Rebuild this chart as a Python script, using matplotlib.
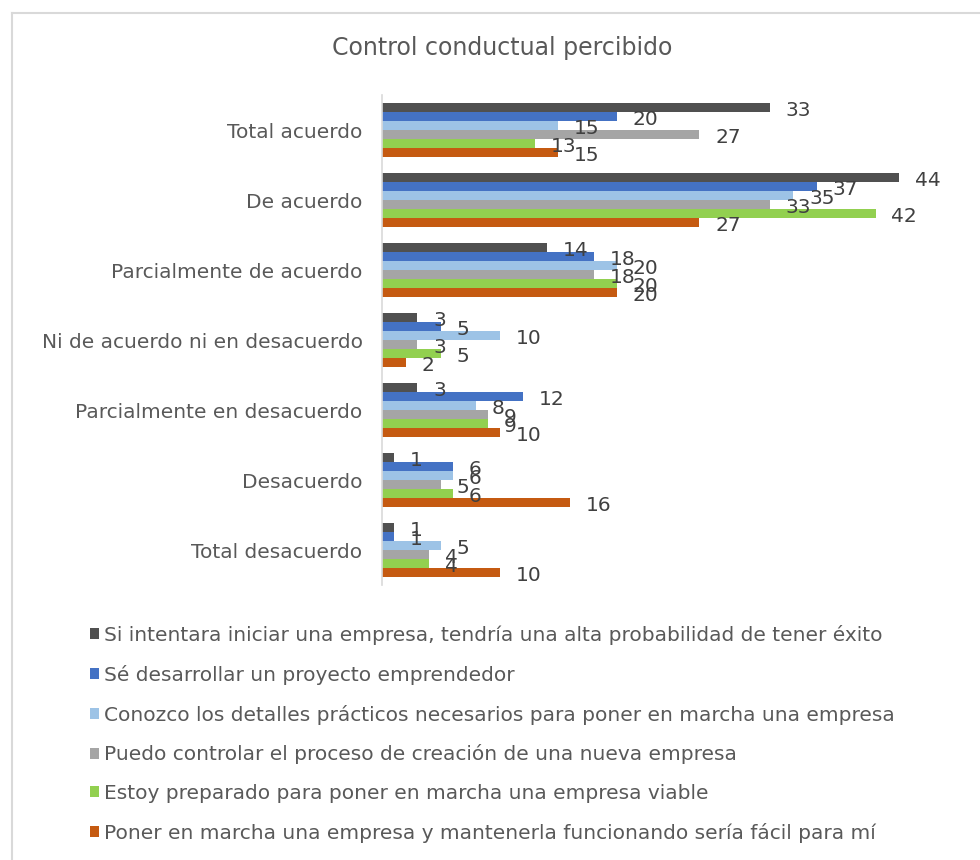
import matplotlib
matplotlib.use("Agg")
import matplotlib.pyplot as plt
from matplotlib.patches import Patch
from matplotlib.lines import Line2D
import numpy as np

plt.rcParams['font.family'] = ['DejaVu Sans']

categories = ["Total acuerdo", "De acuerdo", "Parcialmente de acuerdo",
              "Ni de acuerdo ni en desacuerdo", "Parcialmente en desacuerdo",
              "Desacuerdo", "Total desacuerdo"]

series_names = [
    "Si intentara iniciar una empresa, tendría una alta probabilidad de tener éxito",
    "Sé desarrollar un proyecto emprendedor",
    "Conozco los detalles prácticos necesarios para poner en marcha una empresa",
    "Puedo controlar el proceso de creación de una nueva empresa",
    "Estoy preparado para poner en marcha una empresa viable",
    "Poner en marcha una empresa y mantenerla funcionando sería fácil para mí",
]

s_exito = [33, 44, 14, 3, 3, 1, 1]
s_proyecto = [20, 37, 18, 5, 12, 6, 1]
s_detalles = [15, 35, 20, 10, 8, 6, 5]
s_controlar = [27, 33, 18, 3, 9, 5, 4]
s_preparado = [13, 42, 20, 5, 9, 6, 4]
s_facil = [15, 27, 20, 2, 10, 16, 10]

series_values = [s_exito, s_proyecto, s_detalles, s_controlar, s_preparado, s_facil]
colors = ["#505050", "#4472C4", "#9DC3E6", "#A5A5A5", "#92D050", "#C55A11"]

W, H = 980, 860
fig = plt.figure(figsize=(W / 100, H / 100), dpi=100)
fig.patch.set_facecolor("white")

# chart border (left & top visible)
fig.add_artist(Line2D([12 / W, 12 / W], [0, 1 - 13 / H], transform=fig.transFigure,
                      color="#D9D9D9", lw=1.5))
fig.add_artist(Line2D([12 / W, 1], [1 - 13 / H, 1 - 13 / H], transform=fig.transFigure,
                      color="#D9D9D9", lw=1.5))

left_px, right_px = 382, 970
top_px, bot_px = 95, 585
ax = fig.add_axes([left_px / W, 1 - bot_px / H, (right_px - left_px) / W, (bot_px - top_px) / H])

FS = 14.5
xmax = (right_px - left_px) / 11.75
bh = 9 / 70
y = np.arange(len(categories))
n = len(series_values)
for i, (vals, c) in enumerate(zip(series_values, colors)):
    pos = y + (i - (n - 1) / 2) * bh
    bars = ax.barh(pos, vals, height=bh, color=c, edgecolor="none")
    for b, v in zip(bars, vals):
        ax.annotate(str(v), xy=(b.get_width(), b.get_y() + b.get_height() / 2),
                    xytext=(16, -3), textcoords="offset pixels",
                    ha="left", va="center", fontsize=FS, color="#404040")

ax.set_xlim(0, xmax)
ax.set_ylim(len(categories) - 0.5, -0.5)
ax.set_yticks(y)
ax.set_yticklabels(categories, fontsize=FS, color="#595959")
ax.tick_params(axis="y", length=0, pad=14)
ax.set_xticks([])
for s in ["top", "right", "bottom"]:
    ax.spines[s].set_visible(False)
ax.spines["left"].set_color("#D9D9D9")
ax.spines["left"].set_linewidth(1.2)

fig.text(502 / W, 1 - 48 / H, "Control conductual percibido", ha="center", va="center",
         fontsize=17, color="#595959")

handles = [Patch(facecolor=c, edgecolor="none") for c in colors]
leg = fig.legend(handles, series_names, loc="upper left",
                 bbox_to_anchor=(82 / W, 1 - 617 / H), frameon=False,
                 fontsize=FS, labelspacing=0.98, handlelength=0.45, handleheight=0.45,
                 handletextpad=0.25, borderaxespad=0)
for t in leg.get_texts():
    t.set_color("#595959")

fig.savefig("out.png", dpi=100, facecolor="white")
